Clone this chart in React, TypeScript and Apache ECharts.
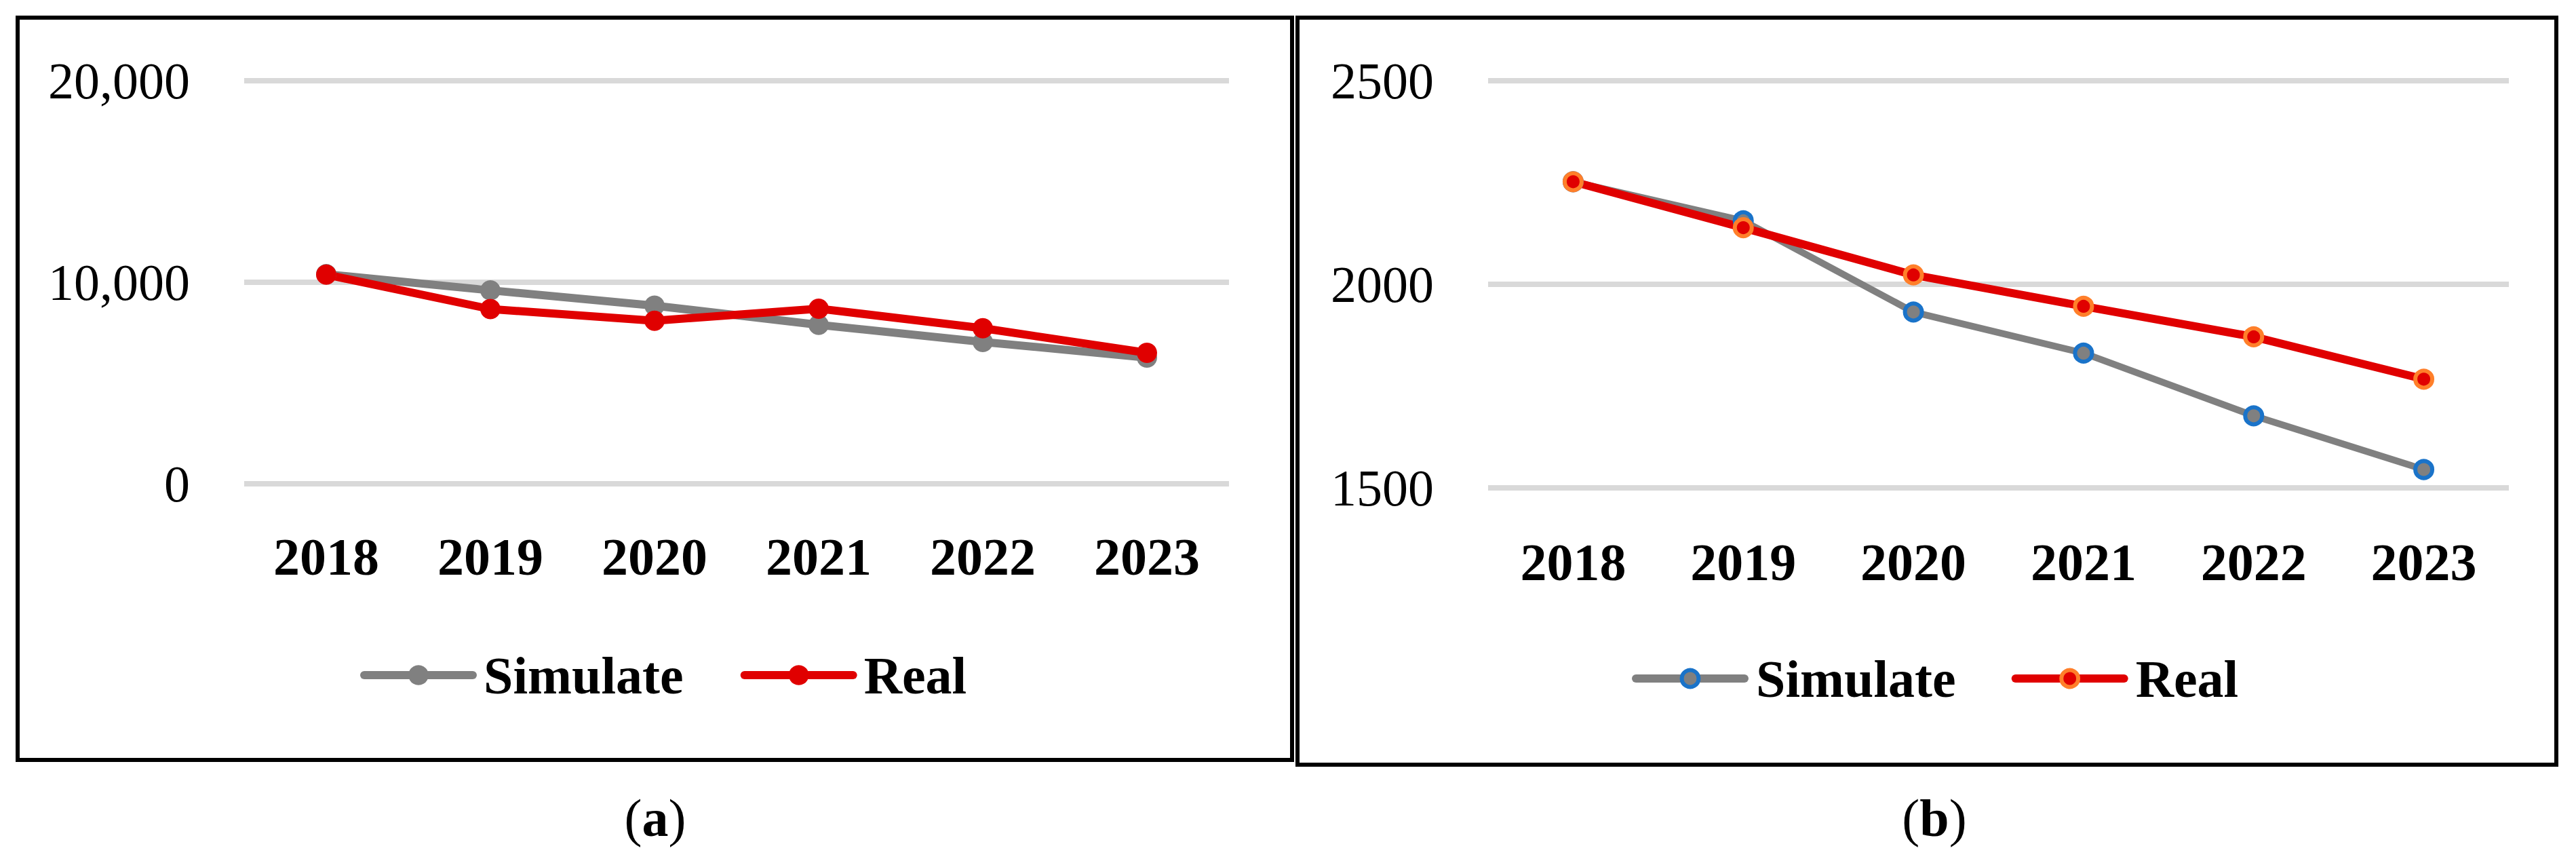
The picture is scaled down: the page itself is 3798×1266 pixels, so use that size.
import React, { useEffect, useRef } from "react";
import * as echarts from "echarts";

const categories = ["2018", "2019", "2020", "2021", "2022", "2023"];
const seriesNames = ["Simulate", "Real"];
const simulateA = [10400, 9600, 8840, 7890, 7040, 6260];
const realA = [10380, 8670, 8090, 8690, 7720, 6500];
const simulateB = [2252, 2156, 1932, 1831, 1677, 1545];
const realB = [2252, 2139, 2023, 1946, 1871, 1767];
const yTicksA = [0, 10000, 20000];
const yTicksB = [1500, 2000, 2500];
const captions = ["a", "b"];

const FONT = "'Liberation Serif', 'Times New Roman', serif";
const GRAY = "#808080";
const RED = "#e00000";
const BLUE = "#1a73c9";
const ORANGE = "#ff7f2a";

type PanelCfg = {
  left: number;
  width: number;
  border: { x: number; y: number; w: number; h: number };
  grid: { left: number; top: number; width: number; height: number };
  ticks: number[];
  comma: boolean;
  sim: number[];
  real: number[];
  ring: boolean;
  xMargin: number;
  legend: { left: number; top: number; itemHeight: number; gap: number; pad: number };
  caption: { text: string; x: number; y: number };
};

function Panel({ cfg }: { cfg: PanelCfg }) {
  const ref = useRef<HTMLDivElement>(null);
  useEffect(() => {
    if (!ref.current) return;
    const chart = echarts.init(ref.current, undefined, { renderer: "svg" });
    const t = cfg.ticks;
    const simStyle = cfg.ring
      ? { color: GRAY, borderColor: BLUE, borderWidth: 6 }
      : { color: GRAY, borderWidth: 0 };
    const realStyle = cfg.ring
      ? { color: RED, borderColor: ORANGE, borderWidth: 6 }
      : { color: RED, borderWidth: 0 };
    chart.setOption({
      animation: false,
      backgroundColor: "#ffffff",
      grid: { ...cfg.grid, containLabel: false },
      xAxis: {
        type: "category",
        data: categories,
        boundaryGap: true,
        axisLine: { show: false },
        axisTick: { show: false },
        splitLine: { show: false },
        axisLabel: {
          interval: 0,
          margin: cfg.xMargin,
          color: "#000",
          fontFamily: FONT,
          fontSize: 78,
          fontWeight: "bold",
        },
      },
      yAxis: {
        type: "value",
        min: t[0],
        max: t[t.length - 1],
        interval: t[1] - t[0],
        axisLine: { show: false },
        axisTick: { show: false },
        splitLine: { lineStyle: { color: "#d9d9d9", width: 8 } },
        axisLabel: {
          margin: 80,
          color: "#000",
          fontFamily: FONT,
          fontSize: 76,
          formatter: (v: number) => (cfg.comma ? v.toLocaleString("en-US") : String(v)),
        },
      },
      legend: {
        left: cfg.legend.left,
        top: cfg.legend.top,
        padding: 0,
        itemWidth: 160,
        itemHeight: cfg.legend.itemHeight,
        itemGap: cfg.legend.gap,
        lineStyle: { width: 12, cap: "round" },
        textStyle: {
          fontFamily: FONT,
          fontSize: 78,
          fontWeight: "bold",
          color: "#000",
          padding: [0, 0, 0, cfg.legend.pad],
        },
        data: [
          {
            name: seriesNames[0],
            itemStyle: simStyle,
            lineStyle: { color: GRAY, width: 12, cap: "round" },
          },
          {
            name: seriesNames[1],
            itemStyle: realStyle,
            lineStyle: { color: RED, width: 12, cap: "round" },
          },
        ],
      },
      series: [
        {
          name: seriesNames[0],
          type: "line",
          data: cfg.sim,
          symbol: "circle",
          symbolSize: cfg.ring ? 25 : 30,
          showAllSymbol: true,
          lineStyle: { color: GRAY, width: cfg.ring ? 10 : 12 },
          itemStyle: simStyle,
          emphasis: { disabled: true },
        },
        {
          name: seriesNames[1],
          type: "line",
          data: cfg.real,
          symbol: "circle",
          symbolSize: cfg.ring ? 25 : 30,
          showAllSymbol: true,
          lineStyle: { color: RED, width: 12 },
          itemStyle: realStyle,
          emphasis: { disabled: true },
        },
      ],
      graphic: [
        {
          type: "rect",
          shape: { x: cfg.border.x, y: cfg.border.y, width: cfg.border.w, height: cfg.border.h },
          style: { fill: "none", stroke: "#000", lineWidth: 6 },
          silent: true,
        },
        {
          type: "text",
          x: cfg.caption.x,
          y: cfg.caption.y,
          style: {
            text: "({b|" + cfg.caption.text + "})",
            fontFamily: FONT,
            fontSize: 78,
            fill: "#000",
            align: "center",
            verticalAlign: "middle",
            rich: { b: { fontFamily: FONT, fontSize: 78, fontWeight: "bold", fill: "#000" } },
          },
        },
      ],
    });
    return () => chart.dispose();
  }, [cfg]);
  return (
    <div
      ref={ref}
      style={{ position: "absolute", left: cfg.left, top: 0, width: cfg.width, height: 1266 }}
    />
  );
}

const panelA: PanelCfg = {
  left: 0,
  width: 1909,
  border: { x: 26, y: 26, w: 1879, h: 1094 },
  grid: { left: 360, top: 119, width: 1452, height: 594 },
  ticks: yTicksA,
  comma: true,
  sim: simulateA,
  real: realA,
  ring: false,
  xMargin: 68,
  legend: { left: 531, top: 956, itemHeight: 37, gap: 84, pad: 11 },
  caption: { text: captions[0], x: 966, y: 1205 },
};

const panelB: PanelCfg = {
  left: 1909,
  width: 1889,
  border: { x: 4, y: 26, w: 1856, h: 1101 },
  grid: { left: 285, top: 119, width: 1505, height: 600 },
  ticks: yTicksB,
  comma: false,
  sim: simulateB,
  real: realB,
  ring: true,
  xMargin: 70,
  legend: { left: 497, top: 961, itemHeight: 31, gap: 82, pad: 12 },
  caption: { text: captions[1], x: 943, y: 1205 },
};

export default function App() {
  return (
    <div
      style={{
        position: "absolute",
        left: 0,
        top: 0,
        width: 3798,
        height: 1266,
        background: "#fff",
        overflow: "hidden",
      }}
    >
      <Panel cfg={panelA} />
      <Panel cfg={panelB} />
    </div>
  );
}
